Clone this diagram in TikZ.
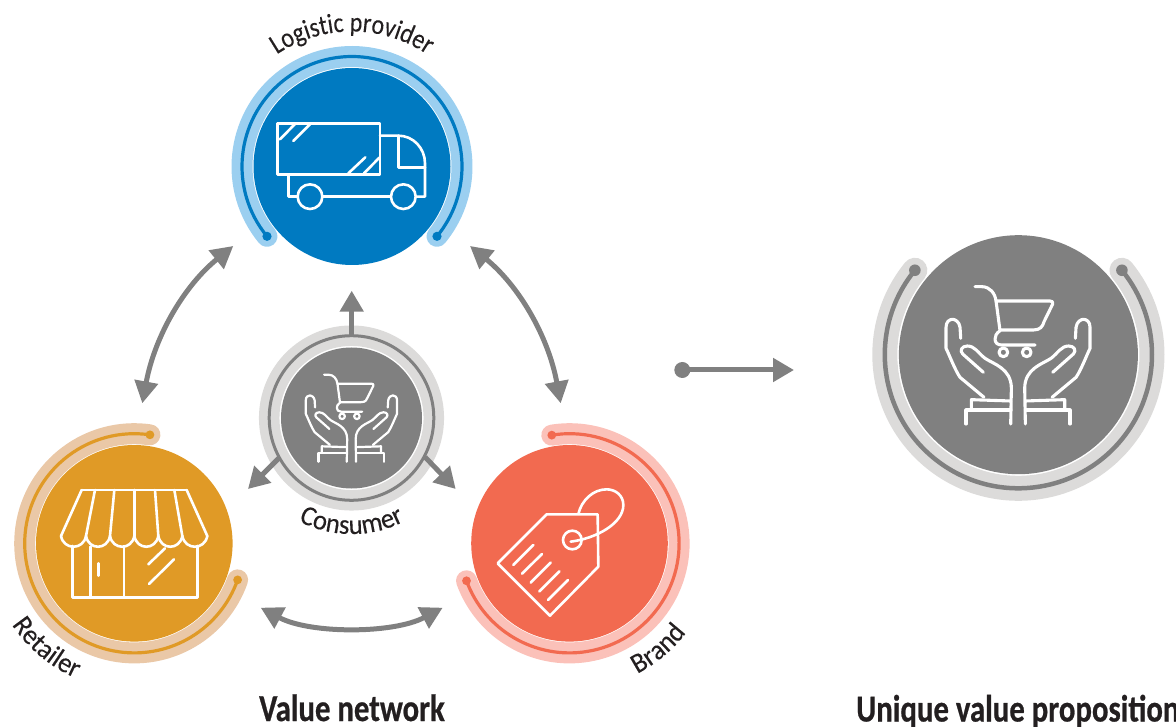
\documentclass[tikz,border=0pt]{standalone}
\usepackage{fontspec}
\usetikzlibrary{arrows.meta,decorations.text}
\setmainfont{Carlito}
\newfontfamily\lblfont[FakeStretch=0.85,FakeBold=0.15]{Carlito}
\newfontfamily\lblwide[FakeStretch=0.95,FakeBold=0.15]{Carlito}
\newfontfamily\ttlfont[FakeStretch=0.81,FakeBold=0.6]{Carlito Bold}
\definecolor{bluedark}{HTML}{007AC1}
\definecolor{bluelight}{HTML}{9BCFF0}
\definecolor{orangedark}{HTML}{E09A26}
\definecolor{orangelight}{HTML}{EAC8A7}
\definecolor{coraldark}{HTML}{F26A50}
\definecolor{corallight}{HTML}{FBC1B9}
\definecolor{graydark}{HTML}{808080}
\definecolor{graylight}{HTML}{DCDBDA}
\definecolor{inkcol}{HTML}{231F20}
\newcommand\ringarc[9]{% centre, from, to, radius, light, dark, band width, thin width, dot radius
  \draw[#5,line width=#7,line cap=round] (#1) ++(#2:#4) arc (#2:#3:#4);
  \draw[#6,line width=#8] (#1) ++(#2:#4) arc (#2:#3:#4);
  \fill[#6] (#1) ++(#2:#4) circle (#9);
  \fill[#6] (#1) ++(#3:#4) circle (#9);
}
\newcommand\halfhand[1]{%
  \draw[#1] (302,295) -- (300,262) .. controls (298,245) and (285,238) .. (278,238)
     .. controls (268,238) and (258,245) .. (258,262) -- (258,325)
     .. controls (270,350) and (285,390) .. (300,412) -- (372,472);
  \draw[#1] (370,397) -- (308,342) .. controls (298,332) and (305,318) .. (322,318)
     .. controls (345,318) and (355,340) .. (375,355)
     .. controls (400,372) and (454,385) .. (454,445) -- (452,552);
  \draw[#1] (334,508) -- (334,479) -- (452,483);
  \draw[#1] (318,552) -- (318,510) -- (452,510);
}
\newcommand\handsicon[4]{% cx, cy, scale, line width
  \begin{scope}[shift={(#1,#2)},scale=#3,shift={(-473,-345)}]
    \tikzset{iconline/.style={draw=white,line width=#4,line cap=round,line join=round}}
    \halfhand{iconline}
    \begin{scope}[shift={(948,0)},xscale=-1]\halfhand{iconline}\end{scope}
    \draw[iconline] (345,140) -- (365,140) .. controls (390,140) and (405,160) .. (408,183)
       -- (420,272) .. controls (408,280) and (405,290) .. (405,297)
       .. controls (405,308) and (412,315) .. (425,315) -- (525,315);
    \draw[iconline] (420,270) -- (520,270) .. controls (540,270) and (548,260) .. (552,245)
       -- (578,192) .. controls (580,186) and (576,183) .. (570,183) -- (408,183);
    \draw[iconline] (430,337) circle (13) (500,337) circle (13);
  \end{scope}
}
\tikzset{
  disc/.style={circle,inner sep=0pt,draw=none},
  flow/.style={draw=graydark,line width=5pt},
  twoway/.style={flow,{Triangle[length=22pt,width=23pt]}-{Triangle[length=22pt,width=23pt]}},
  oneway/.style={flow,-{Triangle[length=21pt,width=23pt]}},
  icon/.style={draw=white,line width=2.6pt,line cap=round,line join=round},
}
\begin{document}
\begin{tikzpicture}[x=1pt,y=1pt]
\useasboundingbox (0,0) rectangle (1176,-727);
\begin{scope}[yscale=-1]
  % discs
  \node[disc,fill=bluedark,minimum size=197pt] (logistic) at (352,166.5) {};
  \node[disc,fill=orangedark,minimum size=196.6pt] (retailer) at (134.3,543.3) {};
  \node[disc,fill=coraldark,minimum size=196.6pt] (brand) at (569.5,543.3) {};
  \node[disc,fill=graydark,minimum size=141pt] (consumer) at (351.5,418) {};
  \node[disc,fill=graydark,minimum size=239pt] (proposition) at (1018.4,354.7) {};
  % rings
  \ringarc{logistic.center}{140.6}{399.4}{110}{bluelight}{bluedark}{21pt}{3.2pt}{4.6}
  \ringarc{retailer.center}{-81.8}{-340.5}{109.6}{orangelight}{orangedark}{21pt}{3.2pt}{4.4}
  \ringarc{brand.center}{-99.3}{160}{109.6}{corallight}{coraldark}{21pt}{3.2pt}{4.4}
  \ringarc{proposition.center}{219.2}{-39.2}{133.6}{graylight}{graydark}{25pt}{4.5pt}{5.8}
  \draw[graylight,line width=20.5pt] (consumer.center) circle (82.3);
  \draw[graydark,line width=3pt] (consumer.center) circle (82.3);
  % truck
  \begin{scope}[shift={(220,0)},scale=1/3]
    \draw[icon] (172,370) rectangle (480,523);
    \draw[icon] (480,407) -- (535,407) .. controls (580,407) and (615,445) .. (615,490) -- (615,590) -- (590,590);
    \draw[icon] (535,407) -- (535,503) -- (615,503);
    \draw[icon] (205,523) -- (205,590) -- (233,590);
    \draw[icon] (308,590) -- (512,590);
    \draw[icon] (270,590) circle (37) (550,590) circle (37);
    \draw[icon] (180,418) -- (225,372) (220,423) -- (270,373) (385,520) -- (436,472) (432,520) -- (478,473);
  \end{scope}
  % store
  \begin{scope}[shift={(0,410)},scale=1/3]
    \draw[icon] (245,240) -- (560,240);
    \foreach \t/\b in {245/183,285/258,343/330,403/403,465/475,523/547,560/622}
      \draw[icon] (\t,240) -- (\b,378);
    \foreach \a/\b in {183/258,258/330,330/403,403/475,475/547,547/622}
      \draw[icon] (\a,378) .. controls ({\a+8},421) and ({\b-8},421) .. (\b,378);
    \draw[icon] (218,408) -- (218,562) -- (592,562) -- (592,408);
    \draw[icon] (272,410) -- (272,562) (372,410) -- (372,562);
    \draw[icon] (296,460) -- (296,497);
    \draw[icon] (445,463) -- (495,415) (447,522) -- (522,448);
  \end{scope}
  % tag
  \begin{scope}[shift={(450,410)},scale=1/3]
    \draw[icon] (290,313) -- (443,313) -- (445,470) -- (300,617) -- (143,460) -- cycle;
    \draw[icon] (367,390) circle (28);
    \draw[icon] (362,395) .. controls (440,385) and (520,340) .. (520,285)
       .. controls (520,255) and (495,238) .. (470,238)
       .. controls (430,238) and (395,270) .. (385,312);
    \draw[icon] (190,465) -- (250,405) (216,491) -- (276,432) (242,518) -- (302,458)
       (268,544) -- (328,484) (294,570) -- (354,510);
  \end{scope}
  % hands and trolleys
  \handsicon{1017.7}{355}{1/3}{3.1pt}
  \handsicon{351.2}{418}{0.2113}{2.2pt}
  % connectors
  \coordinate (a1) at (233.3,246); \coordinate (a2) at (142.3,403.3);
  \coordinate (b1) at (470,246);   \coordinate (b2) at (560.7,403.3);
  \coordinate (c1) at (260.7,607.7); \coordinate (c2) at (442.7,607.7);
  \draw[twoway] (a1) .. controls (185,285) and (155,335) .. (a2);
  \draw[twoway] (b1) .. controls (518,285) and (548,335) .. (b2);
  \draw[twoway] (c1) .. controls (310,634) and (393,634) .. (c2);
  \coordinate (up0) at (351.7,336);  \coordinate (up1) at (351.7,290.7);
  \coordinate (dl0) at (279,458);    \coordinate (dl1) at (248,489);
  \coordinate (dr0) at (425,457);    \coordinate (dr1) at (455.7,489);
  \draw[oneway] (up0) -- (up1);
  \draw[oneway] (dl0) -- (dl1);
  \draw[oneway] (dr0) -- (dr1);
  \node[disc,fill=graydark,minimum size=16pt] (start) at (682.3,370) {};
  \coordinate (finish) at (794,370);
  \draw[oneway] (start.center) -- (finish);
\end{scope}
% curved labels
\path[decorate,decoration={text along path,text align=center,
   text={|\lblfont\fontsize{28}{30}\selectfont\color{inkcol}|Logistic provider}}]
   (352,-166) ++(160:134.5) arc (160:20:134.5);
\path[decorate,decoration={text along path,text align=center,
   text={|\lblwide\fontsize{28}{30}\selectfont\color{inkcol}|Consumer}}]
   (351.5,-418) ++(210:116) arc (210:330:116);
\path[decorate,decoration={text along path,text align=center,
   text={|\lblwide\fontsize{28}{30}\selectfont\color{inkcol}|Retailer}}]
   (134.3,-543.3) ++(200:147) arc (200:260:147);
\path[decorate,decoration={text along path,text align=center,
   text={|\lblwide\fontsize{28}{30}\selectfont\color{inkcol}|Brand}}]
   (569.5,-543.3) ++(280:147) arc (280:340:147);
% titles
\node[anchor=base,inner sep=0pt,text=inkcol,font=\ttlfont\fontsize{38}{40}\selectfont] (title1) at (352,-721) {Value network};
\node[anchor=base west,inner sep=0pt,text=inkcol,font=\ttlfont\fontsize{38}{40}\selectfont] (title2) at (856,-721.5) {Unique value proposition};
\end{tikzpicture}
\end{document}
